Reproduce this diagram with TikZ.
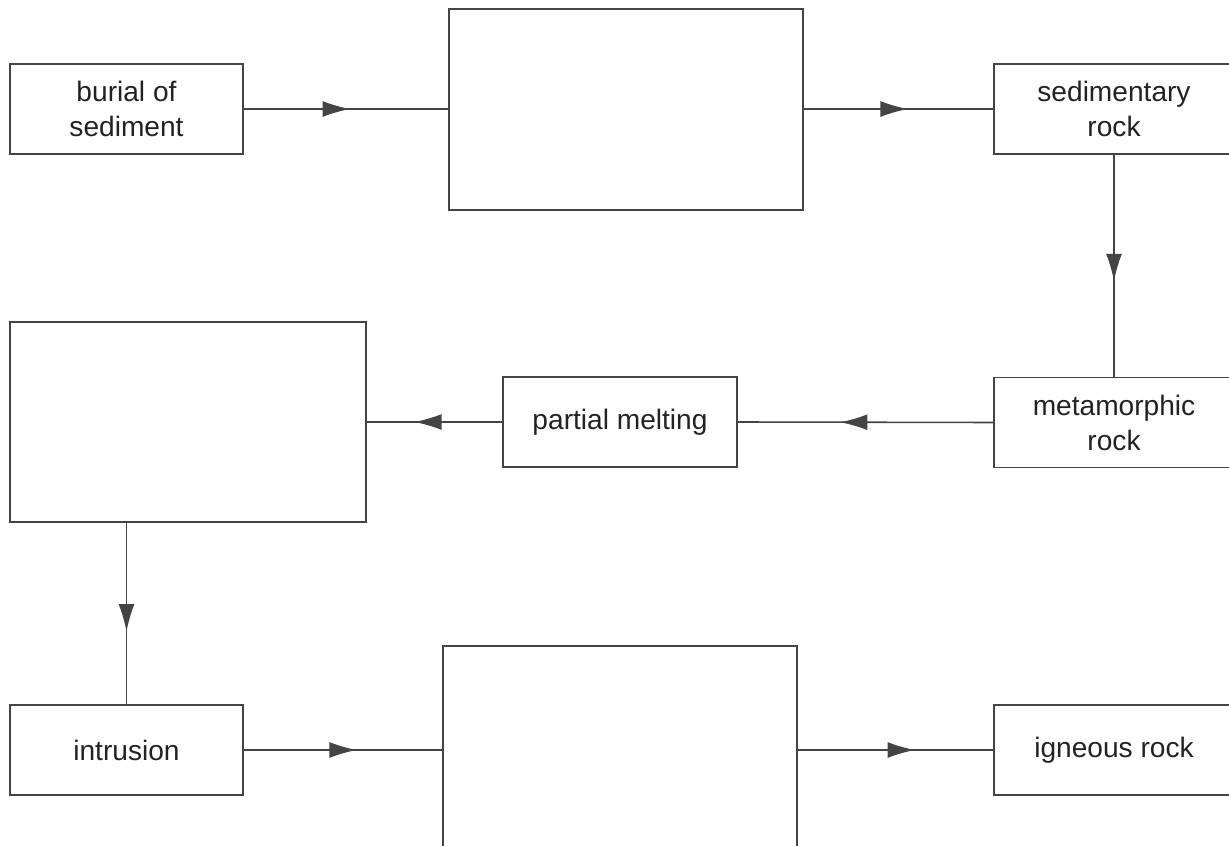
\documentclass[tikz,border=0pt]{standalone}
\usepackage{fontspec}
\setmainfont{Liberation Sans}
\usetikzlibrary{arrows.meta,decorations.markings}
\definecolor{linegray}{HTML}{444444}
\definecolor{textgray}{HTML}{222222}
\tikzset{
  stage/.style={draw=linegray, line width=0.9pt, minimum width=4.66cm, minimum height=1.8cm,
    inner sep=0pt, align=center, text=textgray, font=\fontsize{16}{19.9}\selectfont},
  blank/.style={draw=linegray, line width=0.9pt, minimum width=7.08cm, minimum height=4.02cm, inner sep=0pt},
  flow/.style={draw=linegray, line width=0.9pt, postaction={decorate},
    decoration={markings, mark=at position #1 with {\arrow{Latex[length=5.5mm,width=3.2mm]}}}},
  flow/.default=0.55
}
\begin{document}
\begin{tikzpicture}
  \useasboundingbox (0,0) rectangle (24.58,-16.92);
  % top row
  \node[stage] (burial) at (2.53,-2.18)  {burial of\\sediment};
  \node[blank] (lithify) at (12.52,-2.19) {};
  \node[stage, minimum width=4.8cm] (sedrock) at (22.28,-2.18) {sedimentary\\rock};
  % middle row
  \node[stage, minimum width=4.8cm] (metarock) at (22.28,-8.45) {metamorphic\\rock};
  \node[stage, minimum width=4.68cm] (melting) at (12.40,-8.44) {partial melting};
  \node[blank, minimum width=7.12cm, minimum height=4.0cm] (magma) at (3.76,-8.44) {};
  % bottom row
  \node[stage] (intrusion) at (2.53,-15.0) {intrusion};
  \node[blank, minimum height=4.4cm] (cooling) at (12.40,-15.12) {};
  \node[stage, minimum width=4.8cm] (igrock) at (22.28,-15.0) {igneous rock};
  % arrows
  \draw[flow=0.52] (burial.east) -- (burial.east -| lithify.west);
  \draw[flow=0.55] (lithify.east |- sedrock.west) -- (sedrock.west);
  \draw[flow=0.57] (sedrock.south) -- (metarock.north);
  \draw[flow=0.6]  (metarock.west) -- (melting.east);
  \draw[flow=0.65] (melting.west) -- (melting.west -| magma.east);
  \draw[flow=0.6]  (intrusion.north |- magma.south) -- (intrusion.north);
  \draw[flow=0.57] (intrusion.east) -- (intrusion.east -| cooling.west);
  \draw[flow=0.6]  (cooling.east |- igrock.west) -- (igrock.west);
\end{tikzpicture}
\end{document}
